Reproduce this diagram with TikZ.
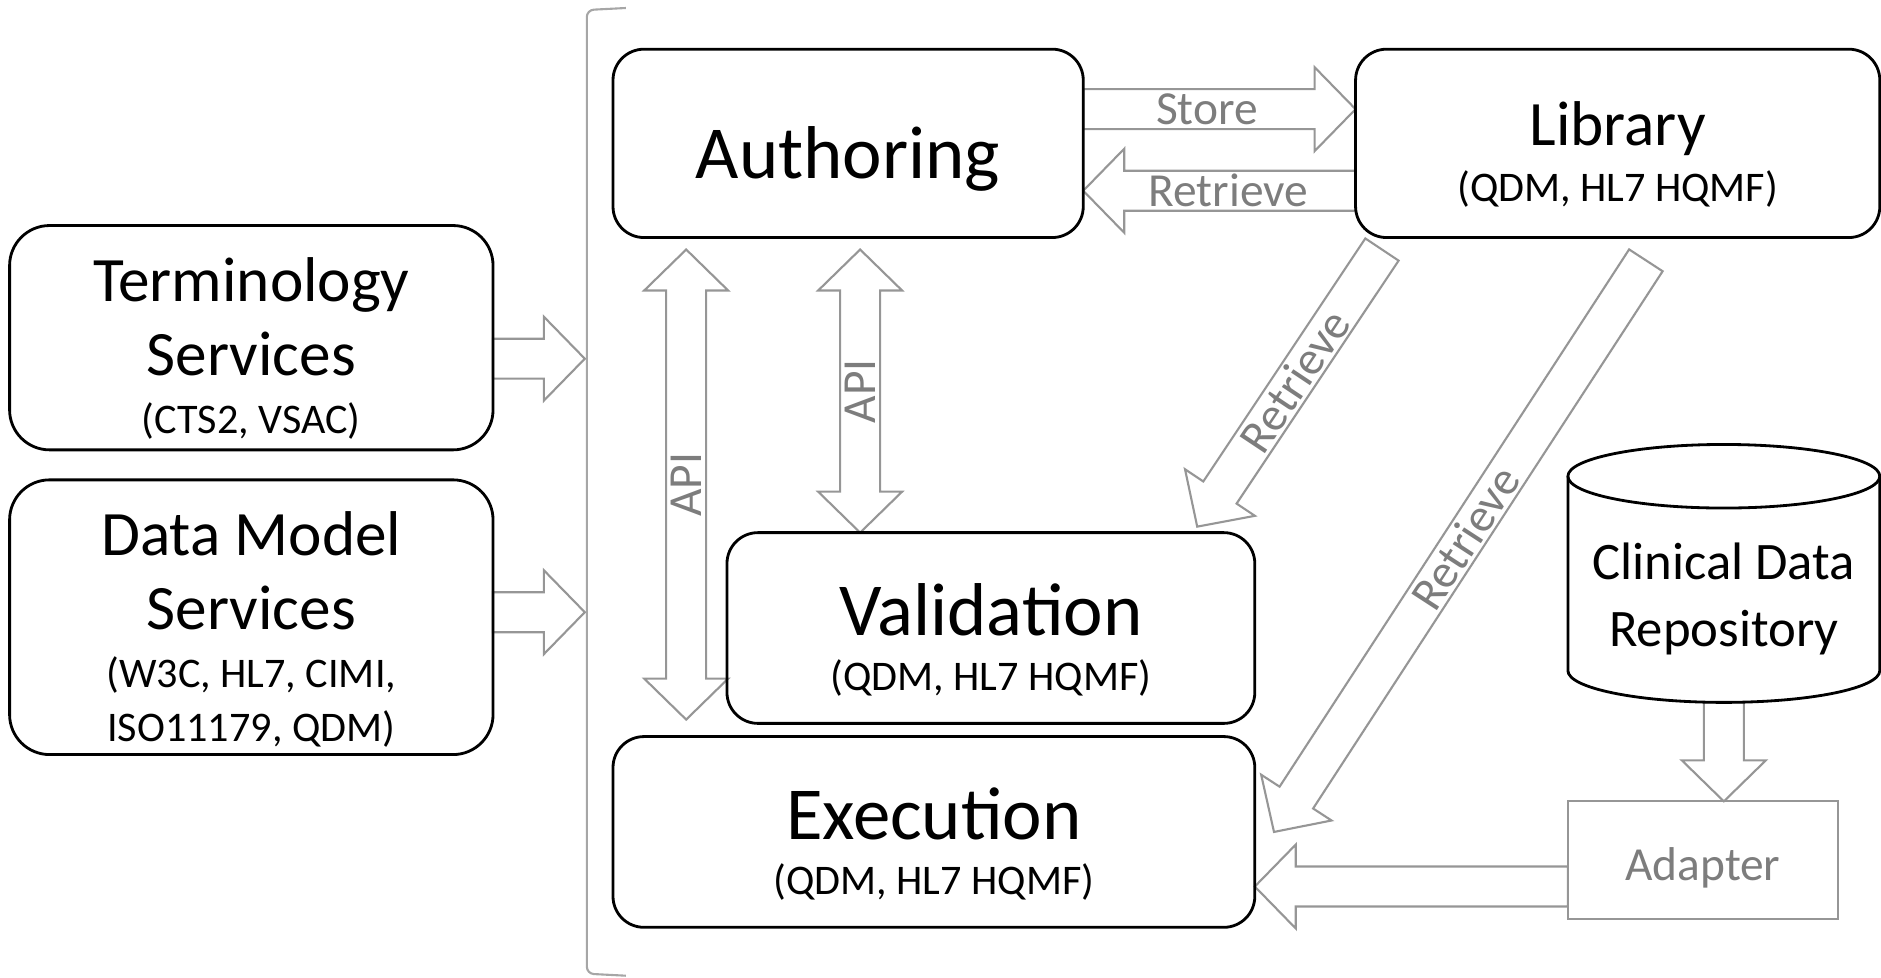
\documentclass[tikz,border=0pt]{standalone}
\usepackage{fontspec}
\setmainfont{Carlito}
\usetikzlibrary{calc}
\pgfdeclarelayer{background}
\pgfsetlayers{background,main}

\definecolor{linegrey}{RGB}{150,150,150}
\definecolor{textgrey}{RGB}{125,125,125}

\newcommand{\subfont}{\fontsize{12}{14}\selectfont}
\newcommand{\headfont}{\fontsize{18}{21}\selectfont}
\newcommand{\titlefont}{\fontsize{21.3}{25}\selectfont}
\newcommand{\topgap}[1]{\rule{0pt}{#1}}

% block arrow, tail #1, tip #2
\newcommand{\blockarrow}[2]{%
  \coordinate (hb) at ($(#2)!\headl!(#1)$);
  \draw[arrowline] ($(#1)!\shaftw!90:(#2)$) -- ($(hb)!\shaftw!90:(#2)$) -- ($(hb)!\headw!90:(#2)$) -- (#2)
    -- ($(hb)!\headw!-90:(#2)$) -- ($(hb)!\shaftw!-90:(#2)$) -- ($(#1)!\shaftw!-90:(#2)$) -- cycle;}
% block arrow with a head on both ends
\newcommand{\doublearrow}[2]{%
  \coordinate (hba) at ($(#1)!\headl!(#2)$);
  \coordinate (hbb) at ($(#2)!\headl!(#1)$);
  \draw[arrowline] (#1) -- ($(hba)!\headw!90:(#2)$) -- ($(hba)!\shaftw!90:(#2)$) -- ($(hbb)!\shaftw!90:(#2)$)
    -- ($(hbb)!\headw!90:(#2)$) -- (#2) -- ($(hbb)!\headw!-90:(#2)$) -- ($(hbb)!\shaftw!-90:(#2)$)
    -- ($(hba)!\shaftw!-90:(#2)$) -- ($(hba)!\headw!-90:(#2)$) -- cycle;}

\tikzset{
  box/.style={draw, line width=0.8pt, rounded corners=0.31cm, align=center, inner sep=0pt, outer sep=0pt},
  sidebox/.style={box, rounded corners=0.4cm, minimum width=4.836cm, font=\headfont},
  arrowline/.style={draw=linegrey, line width=0.6pt},
  lbl/.style={text=textgrey, font=\fontsize{13.5}{16}\selectfont, inner sep=0pt},
}

\begin{document}
\begin{tikzpicture}
  \def\shaftw{0.2cm}
  \def\headw{0.42cm}
  \def\headl{0.41cm}
  \useasboundingbox (0,0) rectangle (18.816,-9.78);
  %
  % services on the left
  \node[sidebox, minimum height=2.244cm] (term) at (2.514,-3.378)
    {\topgap{18.8pt}Terminology\\Services\\[-4.4pt]{\subfont (CTS2, VSAC)}};
  \node[sidebox, minimum height=2.748cm] (dms) at (2.514,-6.174)
    {\topgap{19.5pt}Data Model\\Services\\[-4.4pt]{\subfont (W3C, HL7, CIMI,}\\[-5.8pt]{\subfont ISO11179, QDM)}};
  %
  % core components
  \node[box, minimum width=4.704cm, minimum height=1.884cm, font=\titlefont] (auth) at (8.484,-1.434)
    {\topgap{23.8pt}Authoring};
  \node[box, minimum width=5.244cm, minimum height=1.884cm, font=\headfont] (lib) at (16.182,-1.434)
    {\topgap{18.8pt}Library\\[-5pt]{\subfont (QDM, HL7 HQMF)}};
  \node[box, minimum width=5.28cm, minimum height=1.908cm, font=\titlefont] (val) at (9.912,-6.282)
    {\topgap{21.4pt}Validation\\[-9.4pt]{\subfont (QDM, HL7 HQMF)}};
  \node[box, minimum width=6.42cm, minimum height=1.908cm, font=\titlefont] (exe) at (9.342,-8.322)
    {\topgap{21.4pt}Execution\\[-9.4pt]{\subfont (QDM, HL7 HQMF)}};
  %
  % clinical data repository (cylinder) and adapter
  \draw[line width=0.8pt] (15.684,-4.764) -- (15.684,-6.708)
    arc[start angle=180, end angle=360, x radius=1.56cm, y radius=0.318cm] -- (18.804,-4.764);
  \draw[line width=0.8pt] (17.244,-4.764) ellipse [x radius=1.56cm, y radius=0.318cm];
  \node[align=center, font=\fontsize{15}{19}\selectfont] (cdr) at (17.244,-5.99) {Clinical Data\\Repository};
  \coordinate (cdrb) at (17.244,-7.026);
  \node[lbl, draw=linegrey, line width=0.6pt, minimum width=2.7cm, minimum height=1.176cm, outer sep=0pt,
    text height=11.7pt, text depth=0pt] (adapter) at (17.034,-8.604) {Adapter};
  %
  % bracket round the core
  \draw[linegrey!85, line width=0.6pt, rounded corners=2pt] (6.26,-0.08) -- (5.87,-0.1) -- (5.87,-9.74) -- (6.26,-9.76);
  \coordinate (brk) at (5.85,0);
  %
  % arrow ends
  \coordinate (t1) at ([yshift=-0.21cm]term.east);
  \coordinate (t2) at (t1 -| brk);
  \coordinate (d1) at ([yshift=0.05cm]dms.east);
  \coordinate (d2) at (d1 -| brk);
  \coordinate (s1) at ([yshift=0.342cm]auth.east);
  \coordinate (s2) at (s1 -| lib.west);
  \coordinate (r1) at ([yshift=-0.474cm]lib.west);
  \coordinate (r2) at (r1 -| auth.east);
  \coordinate (a1) at ([xshift=-1.62cm, yshift=-0.12cm]auth.south);
  \coordinate (a2) at ($(a1 |- exe.north)+(0,0.17)$);
  \coordinate (a3) at ([xshift=0.12cm, yshift=-0.12cm]auth.south);
  \coordinate (a4) at (a3 |- val.north);
  \coordinate (g1) at ([xshift=0.264cm, yshift=-0.12cm]lib.south west);
  \coordinate (g2) at ([xshift=-0.576cm, yshift=0.06cm]val.north east);
  \coordinate (h1) at ([xshift=0.282cm, yshift=-0.228cm]lib.south);
  \coordinate (h2) at ([xshift=0.192cm]exe.east);
  \coordinate (c2) at (cdrb |- adapter.north);
  \coordinate (p1) at ([yshift=-0.264cm]adapter.west);
  \coordinate (p2) at (p1 -| exe.east);
  %
  \begin{pgfonlayer}{background}
    \blockarrow{t1}{t2}
    \blockarrow{d1}{d2}
    \blockarrow{s1}{s2}
    \blockarrow{r1}{r2}
    \doublearrow{a1}{a2}
    \doublearrow{a3}{a4}
    \blockarrow{g1}{g2}
    \blockarrow{h1}{h2}
    \blockarrow{cdrb}{c2}
    \blockarrow{p1}{p2}
  \end{pgfonlayer}
  %
  % arrow labels
  \path (s1) -- node[lbl, pos=0.454, sloped] (store) {Store} (s2);
  \path (r1) -- node[lbl, pos=0.467, sloped] (retr) {Retrieve} (r2);
  \path (a2) -- node[lbl, pos=0.5, sloped] (api1) {API} (a1);
  \path (a4) -- node[lbl, pos=0.5, sloped] (api2) {API} (a3);
  \path (g1) -- node[lbl, pos=0.474, sloped] (retr1) {Retrieve} (g2);
  \path (h1) -- node[lbl, pos=0.486, sloped] (retr2) {Retrieve} (h2);
\end{tikzpicture}
\end{document}
